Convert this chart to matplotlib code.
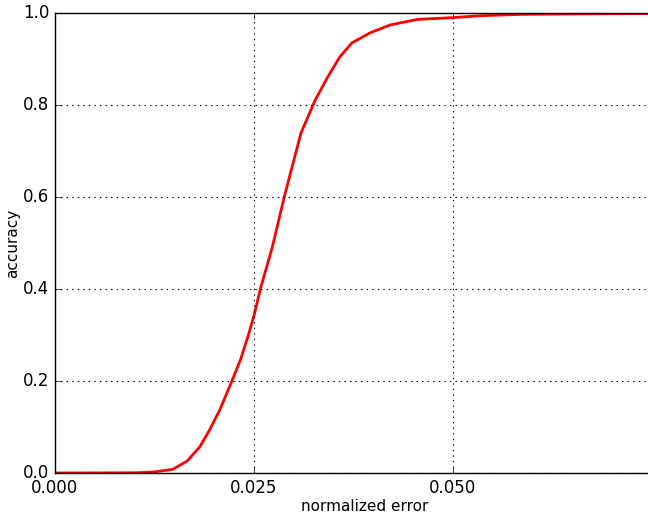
import numpy as np
import matplotlib
matplotlib.use('Agg')
import matplotlib.pyplot as plt

# values
err = [0.0, 0.0100, 0.0123, 0.0148, 0.0166, 0.0182, 0.0194, 0.0207, 0.0222, 0.0233,
       0.0243, 0.0250, 0.0258, 0.0273, 0.0288, 0.0309, 0.0327, 0.0342, 0.0358, 0.0373,
       0.0396, 0.0421, 0.0455, 0.0500, 0.0534, 0.0584, 0.0650, 0.0780]
acc = [0.0, 0.0005, 0.002, 0.008, 0.026, 0.057, 0.093, 0.137, 0.199, 0.246,
       0.300, 0.342, 0.400, 0.491, 0.600, 0.739, 0.811, 0.859, 0.905, 0.935,
       0.957, 0.974, 0.986, 0.990, 0.994, 0.997, 0.998, 0.999]
xticks = [0.0, 0.025, 0.05]
yticks = [0.0, 0.2, 0.4, 0.6, 0.8, 1.0]

plt.style.use('classic')
plt.rcParams['figure.facecolor'] = 'white'

fig = plt.figure(figsize=(6.48, 5.15), dpi=100)
ax = fig.add_axes([55 / 648, 42 / 515, 620 / 648, 460 / 515])
ax.plot(err, acc, color='red', linewidth=2)
ax.set_xlim(0, 620 / 199 * 0.025)
ax.set_ylim(0, 1)
ax.set_xticks(xticks)
ax.set_xticklabels(['%.3f' % v for v in xticks])
ax.set_yticks(yticks)
ax.grid(True, color='black', linestyle=':', linewidth=0.8)
ax.set_xlabel('normalized error', fontsize=11, labelpad=2)
ax.set_ylabel('accuracy', fontsize=11, labelpad=2)
ax.tick_params(labelsize=12)
fig.savefig('out.png', dpi=100)
